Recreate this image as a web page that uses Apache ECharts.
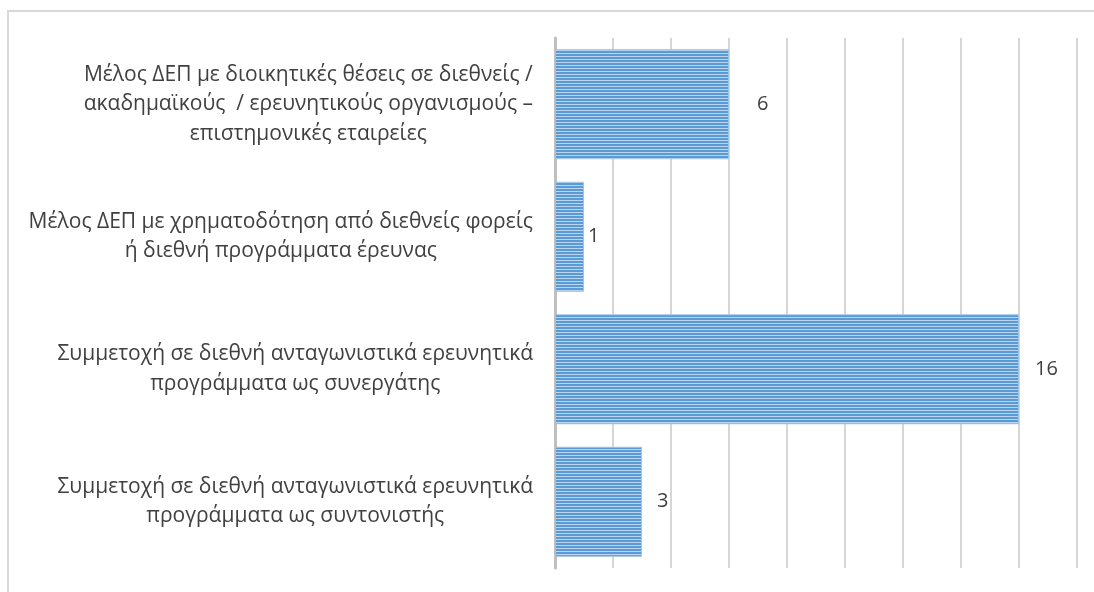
<!DOCTYPE html>
<html>
<head>
<meta charset="utf-8">
<script src="https://cdn.jsdelivr.net/npm/echarts@6/dist/echarts.min.js"></script>
<style>
html,body{margin:0;padding:0;background:#fff;overflow:hidden;}
#chart{position:absolute;left:0;top:0;width:1094px;height:592px;}
#frame{position:absolute;left:7px;top:10px;width:1200px;height:700px;border-left:2px solid #d9d9d9;border-top:2px solid #d9d9d9;pointer-events:none;}
</style>
</head>
<body>
<div id="chart"></div>
<div id="frame"></div>
<script>
const categories = [
  "Μέλος ΔΕΠ με διοικητικές θέσεις σε διεθνείς /\nακαδημαϊκούς  / ερευνητικούς οργανισμούς –\nεπιστημονικές εταιρείες",
  "Μέλος ΔΕΠ με χρηματοδότηση από διεθνείς φορείς\nή διεθνή προγράμματα έρευνας",
  "Συμμετοχή σε διεθνή ανταγωνιστικά ερευνητικά\nπρογράμματα ως συνεργάτης",
  "Συμμετοχή σε διεθνή ανταγωνιστικά ερευνητικά\nπρογράμματα ως συντονιστής"
];
const values = [6, 1, 16, 3];
const xMax = 18;
const xInterval = 2;

// label distances as seen in the reference (manually placed labels)
const labelDistances = [28, 4, 16, 15];

// striped pattern for the bars
const pat = document.createElement('canvas');
pat.width = 4; pat.height = 3;
const pctx = pat.getContext('2d');
pctx.fillStyle = '#5b9bd5'; pctx.fillRect(0, 0, 4, 2);
pctx.fillStyle = '#bcd4ee'; pctx.fillRect(0, 2, 4, 1);

const FONT = '"Open Sans", "Noto Sans", sans-serif';
const chart = echarts.init(document.getElementById('chart'), null, {renderer: 'canvas'});
chart.setOption({
  animation: false,
  backgroundColor: 'transparent',
  grid: {left: 555, right: 17, top: 38, bottom: 24, containLabel: false},
  xAxis: {
    type: 'value', min: 0, max: xMax, interval: xInterval,
    axisLabel: {show: false}, axisLine: {show: false}, axisTick: {show: false},
    splitLine: {show: true, lineStyle: {color: '#c8c8c8', width: 1.5}}
  },
  yAxis: {
    type: 'category', data: categories, inverse: true,
    axisTick: {show: false},
    axisLine: {show: true, lineStyle: {color: '#bfbfbf', width: 3}},
    axisLabel: {
      margin: 22, align: 'right',
      formatter: function (v) { return v.split('\n').map(l => '{c|' + l + '}').join('\n'); },
      rich: {c: {align: 'center', fontFamily: FONT, fontSize: 21, color: '#404040', lineHeight: 29.5}}
    }
  },
  series: [{
    type: 'bar',
    barCategoryGap: '17%',
    data: values.map((v, i) => ({value: v, label: {distance: labelDistances[i]}})),
    itemStyle: {color: {image: pat, repeat: 'repeat'}, borderColor: '#9dc3e6', borderWidth: 1},
    label: {show: true, position: 'right', fontFamily: FONT, fontSize: 20, color: '#404040'}
  }]
});
</script>
</body>
</html>
